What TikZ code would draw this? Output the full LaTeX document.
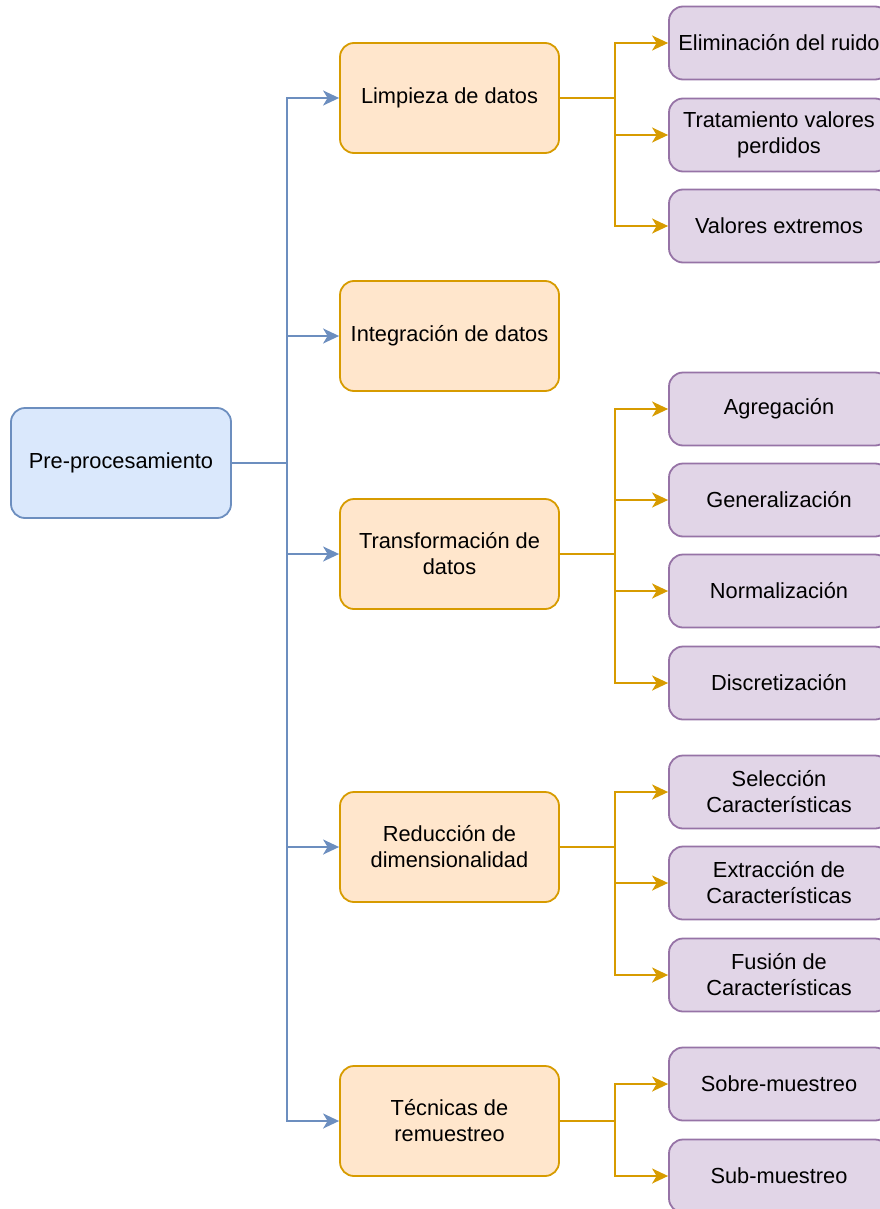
\documentclass[tikz,border=0pt]{standalone}
\usepackage{fontspec}
\setmainfont{Liberation Sans}
\usetikzlibrary{arrows.meta}
\definecolor{bfill}{HTML}{DAE8FC}\definecolor{bdraw}{HTML}{6C8EBF}
\definecolor{ofill}{HTML}{FFE6CC}\definecolor{odraw}{HTML}{D79B00}
\definecolor{pfill}{HTML}{E1D5E7}\definecolor{pdraw}{HTML}{9673A6}
\tikzset{
  base/.style={rounded corners=14pt, line width=1.8pt, inner sep=0pt, align=center,
    font=\fontsize{21.8}{26}\selectfont, text=black},
  rootbox/.style={base, fill=bfill, draw=bdraw, minimum width=220pt, minimum height=110pt},
  midbox/.style={base, fill=ofill, draw=odraw, minimum width=219pt, minimum height=110pt},
  leafbox/.style={base, fill=pfill, draw=pdraw, minimum width=220pt, minimum height=73pt},
  arr/.style={line width=2pt, -{Stealth[length=16pt,width=15pt,inset=4.5pt]}},
  barr/.style={arr, draw=bdraw},
  oarr/.style={arr, draw=odraw},
}
\begin{document}
\begin{tikzpicture}[x=1pt,y=-1pt]
\useasboundingbox (0,0) rectangle (880,1209);
\clip (0,0) rectangle (880,1209);
\node[rootbox] (pre) at (121,463) {Pre-procesamiento};

\node[midbox] (lim) at (449.5,98) {Limpieza de datos};
\node[midbox] (int) at (449.5,336) {Integración de datos};
\node[midbox] (tra) at (449.5,554) {Transformación de\\datos};
\node[midbox] (red) at (449.5,847) {Reducción de\\dimensionalidad};
\node[midbox] (tec) at (449.5,1121) {Técnicas de\\remuestreo};

\node[leafbox] (eli) at (779,43) {Eliminación del ruido};
\node[leafbox] (tvp) at (779,135) {Tratamiento valores\\perdidos};
\node[leafbox] (vex) at (779,226) {Valores extremos};
\node[leafbox] (agr) at (779,409) {Agregación};
\node[leafbox] (gen) at (779,500) {Generalización};
\node[leafbox] (nor) at (779,591) {Normalización};
\node[leafbox] (dis) at (779,683) {Discretización};
\node[leafbox] (sel) at (779,792) {Selección\\Características};
\node[leafbox] (ext) at (779,883) {Extracción de\\Características};
\node[leafbox] (fus) at (779,975) {Fusión de\\Características};
\node[leafbox] (sob) at (779,1084) {Sobre-muestreo};
\node[leafbox] (sub) at (779,1176) {Sub-muestreo};

\foreach \t in {lim,int,tra,red,tec}
  \draw[barr] (pre.east) -- ++(55,0) |- (\t.west);

\foreach \s/\t in {lim/eli,lim/tvp,lim/vex,tra/agr,tra/gen,tra/nor,tra/dis,red/sel,red/ext,red/fus,tec/sob,tec/sub}
  \draw[oarr] (\s.east) -- ++(55,0) |- (\t.west);
\end{tikzpicture}
\end{document}
